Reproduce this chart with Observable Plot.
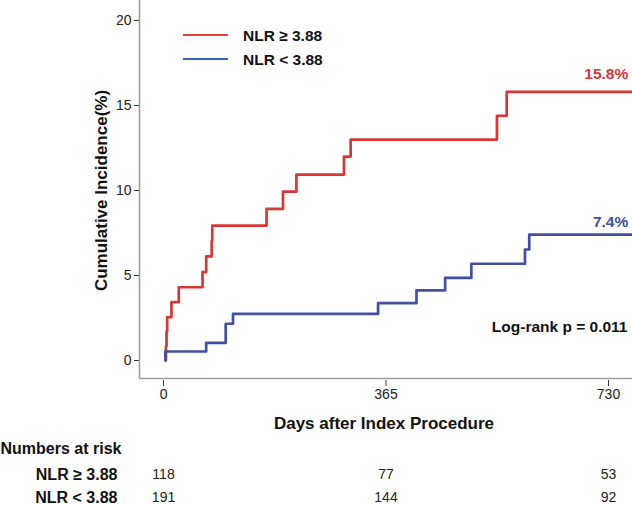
<!DOCTYPE html>
<html>
<head>
<meta charset="utf-8">
<script src="https://cdn.jsdelivr.net/npm/d3@7"></script>
<script src="https://cdn.jsdelivr.net/npm/@observablehq/plot@0.6"></script>
<style>
  html, body { margin: 0; padding: 0; background: #fff; }
  #chart { width: 632px; height: 505px; }
</style>
</head>
<body>
<div id="chart"></div>
<script>
// ---- Data ----
const groups = ["NLR ≥ 3.88", "NLR < 3.88"];
const groupColors = ["#dc3535", "#4150a0"];
const legendColors = ["#e3403a", "#3366b5"];

const highDays   = [4, 4, 5, 6, 13, 25, 64, 70, 79, 80, 169, 196, 218, 296, 307, 547, 563, 769];
const highValues = [0, 0.85, 1.7, 2.55, 3.43, 4.31, 5.2, 6.12, 7.06, 7.94, 8.92, 9.94, 10.94, 12.0, 13.0, 14.4, 15.8, 15.8];

const lowDays   = [3, 3, 70, 102, 114, 352, 415, 462, 505, 593, 600, 769];
const lowValues = [0, 0.53, 1.04, 2.16, 2.74, 3.37, 4.12, 4.86, 5.69, 6.53, 7.41, 7.41];

const endLabels = ["15.8%", "7.4%"];
const pValueText = "Log-rank p = 0.011";

const xTicks = [0, 365, 730];
const yTicks = [0, 5, 10, 15, 20];
const xDomain = [-39.4, 769.4];
const yDomain = [-1.06, 21.18];

const riskDays = [0, 365, 730];
const riskHigh = [118, 77, 53];
const riskLow  = [191, 144, 92];

const xTitle = "Days after Index Procedure";
const yTitle = "Cumulative Incidence(%)";
const riskTitle = "Numbers at risk";

// ---- Build tables ----
const curves = [
  ...highDays.map((d, i) => ({group: groups[0], day: d, value: highValues[i]})),
  ...lowDays.map((d, i) => ({group: groups[1], day: d, value: lowValues[i]}))
];
const endHigh = [{day: highDays[highDays.length - 1], value: highValues[highValues.length - 1], label: endLabels[0]}];
const endLow  = [{day: lowDays[lowDays.length - 1], value: lowValues[lowValues.length - 1], label: endLabels[1]}];
const riskRowsHigh = riskDays.map((d, i) => ({day: d, n: riskHigh[i]}));
const riskRowsLow  = riskDays.map((d, i) => ({day: d, n: riskLow[i]}));

const FONT = "'Liberation Sans', Arial, Helvetica, sans-serif";

function legendMark(index, scales, values, dimensions) {
  const g = d3.create("svg:g").attr("font-family", FONT);
  groups.forEach((name, i) => {
    const y = 35 + 24 * i;
    g.append("line")
      .attr("x1", dimensions.marginLeft + 44).attr("x2", dimensions.marginLeft + 89)
      .attr("y1", y).attr("y2", y)
      .attr("stroke", legendColors[i]).attr("stroke-width", 2);
    g.append("text")
      .attr("x", dimensions.marginLeft + 104).attr("y", y)
      .attr("dy", "0.36em")
      .attr("text-anchor", "start")
      .attr("font-size", 15.5).attr("font-weight", "bold").attr("fill", "#111")
      .text(name);
  });
  return g.node();
}

const bold = {fontWeight: "bold", fill: "#111", lineAnchor: "middle"};

const chart = Plot.plot({
  width: 632,
  height: 505,
  marginLeft: 139,
  marginRight: 0,
  marginTop: 0,
  marginBottom: 127,
  style: {fontFamily: FONT, fontSize: "14px", background: "#fff", color: "#222"},
  x: {domain: xDomain},
  y: {domain: yDomain},
  color: {domain: groups, range: groupColors},
  marks: [
    Plot.ruleX([xDomain[0]], {stroke: "#9e9e9e", strokeWidth: 1.6}),
    Plot.ruleY([yDomain[0]], {stroke: "#9e9e9e", strokeWidth: 1.6}),
    Plot.axisX({ticks: xTicks, tickSize: 6, tickPadding: 3, dy: 2, label: null, fontSize: 14, stroke: "#333", fill: "#222"}),
    Plot.axisY({ticks: yTicks, tickSize: 5, tickPadding: 3, label: null, fontSize: 14, stroke: "#333", fill: "#222"}),
    Plot.line(curves, {x: "day", y: "value", z: "group", stroke: "group", curve: "step-after", strokeWidth: 2.7}),
    Plot.text(endHigh, {x: "day", y: "value", text: "label", fill: groupColors[0], textAnchor: "end", lineAnchor: "middle", dx: -4, dy: -18, fontSize: 15.5, fontWeight: "bold"}),
    Plot.text(endLow, {x: "day", y: "value", text: "label", fill: groupColors[1], textAnchor: "end", lineAnchor: "middle", dx: -4, dy: -12.5, fontSize: 15.5, fontWeight: "bold"}),
    Plot.text([pValueText], {...bold, frameAnchor: "bottom-right", dx: -5, dy: -51, textAnchor: "end", fontSize: 15.5}),
    Plot.text([yTitle], {...bold, frameAnchor: "left", rotate: -90, textAnchor: "middle", dx: -38, dy: 1, fontSize: 17}),
    Plot.text([xTitle], {...bold, frameAnchor: "bottom", textAnchor: "middle", dy: 45, dx: -2, fontSize: 17}),
    Plot.text([riskTitle], {...bold, frameAnchor: "bottom-left", dx: -139, dy: 70, textAnchor: "start", fontSize: 16}),
    Plot.text([groups[0]], {...bold, frameAnchor: "bottom-left", dx: -22, dy: 96, textAnchor: "end", fontSize: 16}),
    Plot.text([groups[1]], {...bold, frameAnchor: "bottom-left", dx: -22, dy: 119, textAnchor: "end", fontSize: 16}),
    Plot.text(riskRowsHigh, {x: "day", frameAnchor: "bottom", lineAnchor: "middle", textAnchor: "middle", dy: 96, text: "n", fontSize: 14, fill: "#222"}),
    Plot.text(riskRowsLow, {x: "day", frameAnchor: "bottom", lineAnchor: "middle", textAnchor: "middle", dy: 119, text: "n", fontSize: 14, fill: "#222"}),
    legendMark
  ]
});
document.getElementById("chart").appendChild(chart);
</script>
</body>
</html>
